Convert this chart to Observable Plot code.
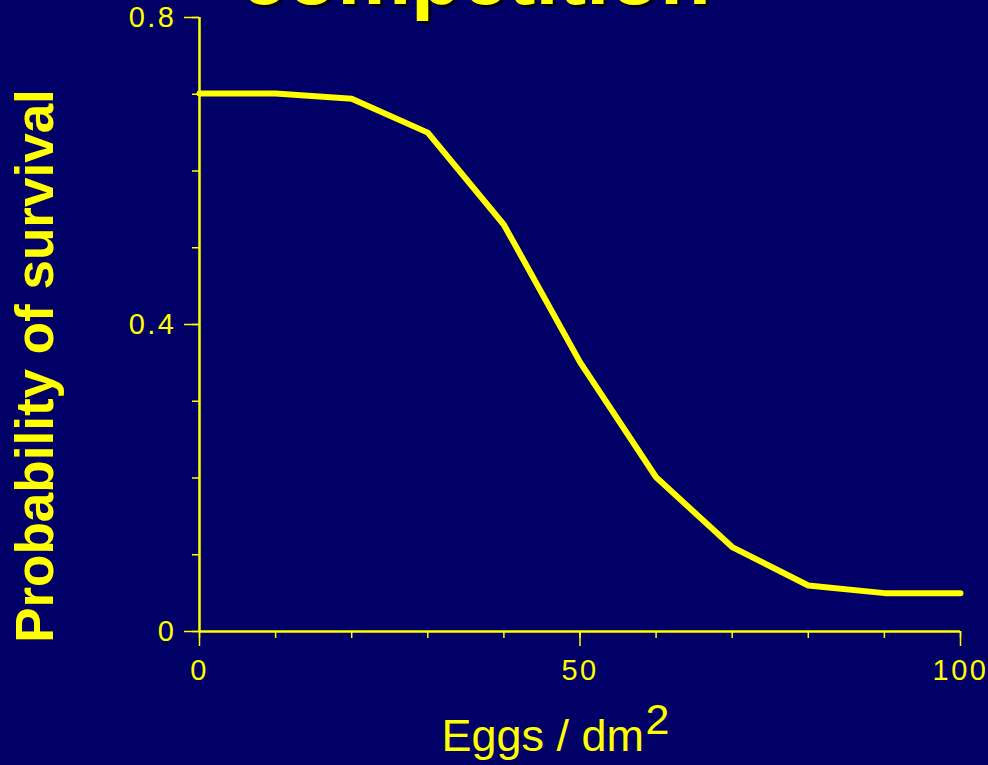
<!DOCTYPE html>
<html>
<head>
<meta charset="utf-8">
<script src="https://cdn.jsdelivr.net/npm/d3@7"></script>
<script src="https://cdn.jsdelivr.net/npm/@observablehq/plot@0.6"></script>
<style>
  html, body { margin: 0; padding: 0; background: #000066; }
  #chart svg { display: block; }
  g[aria-label="x-axis tick label"] text, g[aria-label="y-axis tick label"] text { letter-spacing: 2.5px; }
</style>
</head>
<body>
<div id="chart"></div>
<script>
// Data
const eggs = [0, 10, 20, 30, 40, 50, 60, 70, 80, 90, 100];
const survival = [0.701, 0.701, 0.694, 0.650, 0.530, 0.351, 0.201, 0.110, 0.060, 0.050, 0.050];

const xMajorTicks = [0, 50, 100];
const xMinorTicks = [0, 10, 20, 30, 40, 50, 60, 70, 80, 90, 100];
const yMajorTicks = [0, 0.4, 0.8];
const yMinorTicks = [0, 0.1, 0.2, 0.3, 0.4, 0.5, 0.6, 0.7, 0.8];
const yTickLabels = ["0", "0.4", "0.8"];

const titleText = "competition";
const yTitle = "Probability of survival";
const xTitle = "Eggs / dm";
const xTitleSup = "2";

const data = eggs.map((e, i) => ({eggs: e, survival: survival[i]}));

const YELLOW = "#ffff00";
const BG = "#000066";
const FONT = "'Liberation Sans', Arial, Helvetica, sans-serif";

const chart = Plot.plot({
  width: 988,
  height: 765,
  marginLeft: 199,
  marginRight: 28,
  marginTop: 17,
  marginBottom: 134,
  style: {background: BG, color: YELLOW, fontFamily: FONT},
  x: {domain: [0, 100]},
  y: {domain: [0, 0.8]},
  marks: [
    // minor ticks (no labels)
    Plot.axisX(xMinorTicks, {anchor: "bottom", tickSize: 7, stroke: YELLOW, strokeWidth: 1.5, tickFormat: () => "", label: null}),
    Plot.axisY(yMinorTicks, {anchor: "left", tickSize: 7, stroke: YELLOW, strokeWidth: 1.5, tickFormat: () => "", label: null}),
    // major ticks with labels
    Plot.axisX(xMajorTicks, {anchor: "bottom", tickSize: 15, tickPadding: 13, stroke: YELLOW, strokeWidth: 1.5, fill: YELLOW, fontSize: 29, fontFamily: FONT, label: null}),
    Plot.axisY(yMajorTicks, {anchor: "left", tickSize: 15, tickPadding: 8, stroke: YELLOW, strokeWidth: 1.5, fill: YELLOW, fontSize: 29, fontFamily: FONT, label: null,
      tickFormat: d => yTickLabels[yMajorTicks.indexOf(d)]}),
    // axis lines
    Plot.ruleY([0], {stroke: YELLOW, strokeWidth: 2.5}),
    Plot.ruleX([0], {stroke: YELLOW, strokeWidth: 2.5}),
    // data line
    Plot.line(data, {x: "eggs", y: "survival", stroke: YELLOW, strokeWidth: 6, strokeLinejoin: "miter"}),
    // title (cut off at top) with shadow
    Plot.text([titleText], {text: d => d, frameAnchor: "top", lineAnchor: "bottom", textAnchor: "middle", dx: -101.5, dy: -11, fill: "#000018", fontSize: 83, fontWeight: "bold", fontFamily: FONT}),
    Plot.text([titleText], {text: d => d, frameAnchor: "top", lineAnchor: "bottom", textAnchor: "middle", dx: -104.5, dy: -14, fill: YELLOW, fontSize: 83, fontWeight: "bold", fontFamily: FONT}),
    // y title
    Plot.text([yTitle], {text: d => d, frameAnchor: "left", rotate: -90, lineAnchor: "bottom", textAnchor: "middle", dx: -147, dy: 41.5, fill: YELLOW, fontSize: 53, fontWeight: "bold", fontFamily: FONT}),
    // x title with superscript
    Plot.text([xTitle], {text: d => d, frameAnchor: "bottom", lineAnchor: "bottom", textAnchor: "start", dx: 441 - 579.5, dy: 119, fill: YELLOW, fontSize: 45, fontFamily: FONT}),
    Plot.text([xTitleSup], {text: d => d, frameAnchor: "bottom", lineAnchor: "bottom", textAnchor: "start", dx: 645 - 579.5, dy: 102, fill: YELLOW, fontSize: 43, fontFamily: FONT})
  ]
});

document.getElementById("chart").appendChild(chart);
</script>
</body>
</html>
